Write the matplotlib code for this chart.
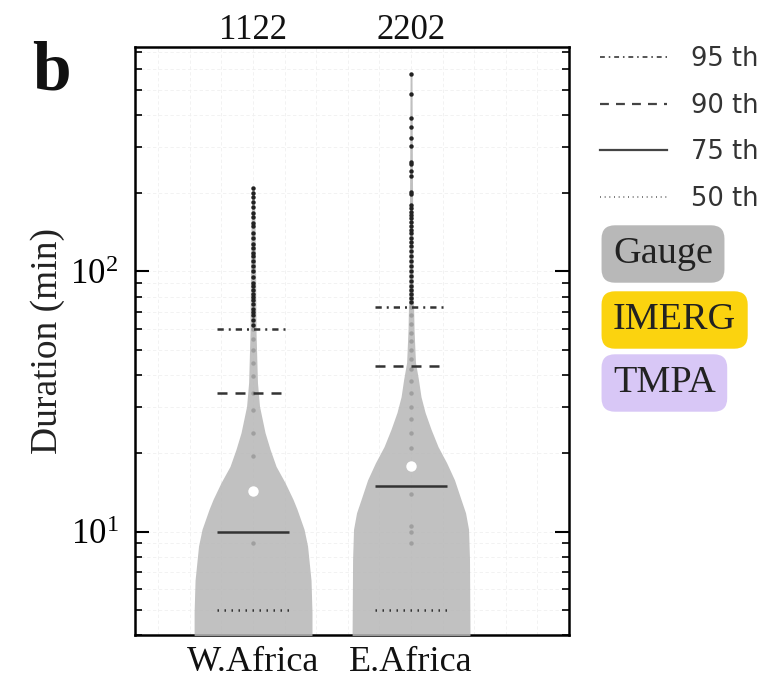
import numpy as np
import matplotlib.pyplot as plt
from matplotlib.lines import Line2D
from matplotlib.ticker import LogLocator, MultipleLocator, NullFormatter

plt.rcParams['font.family'] = ['Liberation Serif', 'DejaVu Serif']
plt.rcParams['mathtext.fontset'] = 'stix'

# data
regions = ['W.Africa', 'E.Africa']
counts = [1122, 2202]
p95 = [60, 73]
p90 = [34, 43.5]
p75 = [10, 15]
p50 = [5, 5]
means = [14.3, 17.8]

# violin outlines: duration (min) and half width (x units)
w_prof_y = [3.5, 4.0, 4.9, 6.5, 8.8, 10.2, 12.2, 13.3, 15.4, 17.8, 20.7, 24.0,
            30.3, 37.4, 58.3, 102, 145, 210]
w_prof_w = [0.373, 0.373, 0.373, 0.367, 0.345, 0.323, 0.278, 0.253, 0.203,
            0.146, 0.108, 0.076, 0.041, 0.028, 0.019, 0.016, 0.013, 0.008]
e_prof_y = [3.5, 4.1, 7.8, 10.2, 11.8, 13.3, 15.8, 18.4, 21.2, 24.7, 28.7,
            33.0, 38.4, 44.7, 59.8, 93, 226, 573]
e_prof_w = [0.373, 0.373, 0.370, 0.364, 0.345, 0.316, 0.275, 0.225, 0.171,
            0.127, 0.089, 0.063, 0.047, 0.028, 0.019, 0.013, 0.009, 0.006]

# individual values shown as dots
w_dots = [9, 19.5, 24, 29.4, 34, 39.5, 44.6, 50, 55, 60, 62, 65, 68, 70, 72,
          75, 78, 80, 82, 85, 88, 90, 95, 100, 105, 110, 115, 118, 123, 128,
          134, 140, 149, 153, 162, 168, 177, 185, 193, 200, 210]
e_dots = [9, 10, 10.5, 14, 21, 24, 27, 30, 34, 38, 42, 46, 50, 54, 58, 63, 68,
          73, 76, 79, 82, 85, 88, 92, 96, 100, 105, 110, 115, 120, 125, 130,
          135, 140, 145, 150, 155, 160, 165, 170, 175, 180, 198, 203, 232, 243,
          258, 263, 303, 325, 361, 391, 480, 573]

profiles = [(w_prof_y, w_prof_w), (e_prof_y, e_prof_w)]
dots = [w_dots, e_dots]

fig = plt.figure(figsize=(7.72, 6.81), dpi=100)
ax = fig.add_axes([0.1749, 0.0675, 0.5622, 0.8635])
ax.set_yscale('log')

line_col = '#333333'
half = 0.23
for i in range(2):
    x = i + 1
    py = np.array(profiles[i][0])
    pw = np.array(profiles[i][1])
    ax.fill_betweenx(py, x - pw, x + pw, color='#b6b6b6', alpha=0.85,
                     lw=0, zorder=3)
    d = np.array(dots[i])
    low = d[d <= p95[i]]
    high = d[d > p95[i]]
    ax.plot(np.full(len(low), x), low, 'o', ms=3.2, color='#222222',
            mec='none', zorder=2)
    ax.plot(np.full(len(high), x), high, 'o', ms=3.2, color='#222222',
            mec='none', zorder=4)
    ax.hlines(p95[i], x - half, x + half, colors=line_col, lw=1.8,
              linestyles=[(0, (2.5, 2, 0.8, 2))], zorder=5)
    ax.hlines(p90[i], x - half, x + half, colors=line_col, lw=1.8,
              linestyles=[(0, (4, 3.2))], zorder=5)
    ax.hlines(p75[i], x - half, x + half, colors=line_col, lw=1.8,
              linestyles='solid', zorder=5)
    ax.hlines(p50[i], x - half, x + half, colors=line_col, lw=1.8,
              linestyles=[(0, (0.6, 2.2))], zorder=5)
    ax.plot(x, means[i], 'o', ms=7.5, color='white', mec='none', zorder=6)
    ax.annotate(str(counts[i]), xy=(x, 1), xycoords=('data', 'axes fraction'),
                xytext=(0, 6), textcoords='offset points', ha='center',
                va='baseline', fontsize=25, color='#111111')

ax.set_xlim(0.253, 3.0)
ax.set_ylim(4.0, 730)
ax.set_xticks([1, 2])
ax.set_xticklabels(regions)
ax.xaxis.set_minor_locator(MultipleLocator(0.2))
ax.tick_params(axis='x', which='both', length=0, labelsize=26, pad=8,
               colors='#111111')
ax.yaxis.set_major_locator(LogLocator(base=10))
ax.yaxis.set_minor_locator(LogLocator(base=10, subs=np.arange(2, 10)))
ax.yaxis.set_minor_formatter(NullFormatter())
ax.tick_params(axis='y', which='major', direction='in', length=10, width=1.5,
               left=True, right=True, labelsize=25, pad=12)
ax.tick_params(axis='y', which='minor', direction='in', length=5, width=1.2,
               left=True, right=True)
ax.grid(which='both', axis='both', color='0.94', lw=0.6, ls=(0, (4, 3)),
        zorder=0)
for s in ax.spines.values():
    s.set_linewidth(1.8)
ax.set_ylabel('Duration (min)', fontsize=27, labelpad=4, color='#222222')

fig.text(0.042, 0.868, 'b', fontsize=50, fontweight='bold', color='#111111')

# legend for percentile lines
handles = [
    Line2D([], [], color='#555555', lw=1.4, ls=(0, (2.5, 2, 0.8, 2))),
    Line2D([], [], color='#444444', lw=1.6, ls=(0, (4, 3.2))),
    Line2D([], [], color='#444444', lw=1.6, ls='solid'),
    Line2D([], [], color='#666666', lw=1.2, ls=(0, (0.6, 2.2))),
]
labels = ['95 th', '90 th', '75 th', '50 th']
leg = fig.legend(handles, labels, loc='upper left',
                 bbox_to_anchor=(600 / 772, 1 - 46 / 681),
                 frameon=False, borderpad=0, borderaxespad=0,
                 handlelength=2.6, handletextpad=0.95, labelspacing=0.8,
                 prop={'family': 'DejaVu Sans', 'size': 18.5})
for t in leg.get_texts():
    t.set_color('#333333')

# dataset boxes
boxes = [('Gauge', '#b8b8b8', 254), ('IMERG', '#fbd30f', 320),
         ('TMPA', '#d8c7f6', 383)]
for name, col, yc in boxes:
    fig.text(613 / 772, 1 - yc / 681, name, fontsize=27.5, ha='left',
             va='center', color='#222222',
             bbox=dict(boxstyle='round,pad=0.3,rounding_size=0.35',
                       fc=col, ec='none'))

fig.savefig('out.png', dpi=100)
